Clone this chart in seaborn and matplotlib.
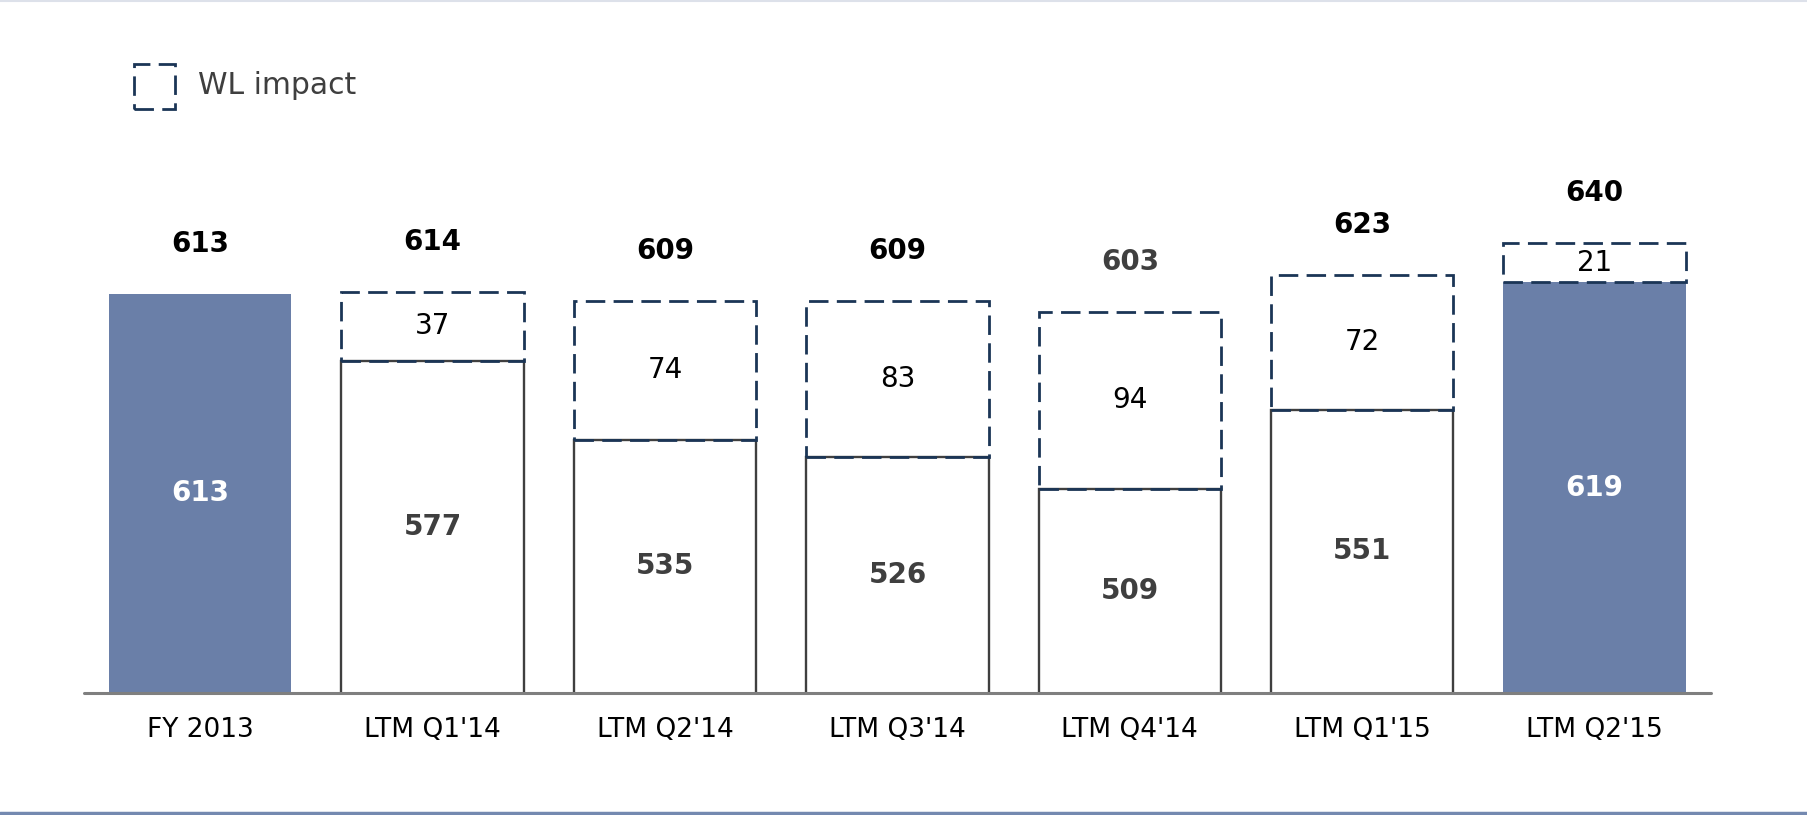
import matplotlib
matplotlib.use("Agg")
import matplotlib.pyplot as plt
import matplotlib.patches as mpatches
from matplotlib.lines import Line2D
import pandas as pd
import seaborn as sns

# chart data
categories = ["FY 2013", "LTM Q1'14", "LTM Q2'14", "LTM Q3'14", "LTM Q4'14", "LTM Q1'15", "LTM Q2'15"]
base_values = [613, 577, 535, 526, 509, 551, 619]
wl_impact = [0, 37, 74, 83, 94, 72, 21]
legend_label = "WL impact"

# styles
blue = "#6A7FA8"
navy = "#1B3556"
dark = "#3F3F3F"
bar_fill = [blue, "white", "white", "white", "white", "white", blue]
total_color = ["black", "black", "black", "black", dark, "black", "black"]

sns.set_style("white")
plt.rcParams["font.family"] = ["DejaVu Sans"]

df = pd.DataFrame({"category": categories, "base": base_values, "wl": wl_impact})
df["total"] = df["base"] + df["wl"]

fig = plt.figure(figsize=(18.07, 8.15), dpi=100)
ax = fig.add_axes([0.0465, 0.1497, 0.9003, 0.6902])

palette = dict(zip(categories, bar_fill))
sns.barplot(data=df, x="category", y="base", hue="category", palette=palette,
            order=categories, hue_order=categories, width=0.785, legend=False,
            saturation=1, ax=ax, zorder=2)

bars = sorted(ax.patches, key=lambda p: p.get_x())
for bar, fill in zip(bars, bar_fill):
    if fill == "white":
        bar.set_edgecolor(dark)
        bar.set_linewidth(1.7)
    else:
        bar.set_edgecolor(fill)
        bar.set_linewidth(0)

# WL impact boxes on top of base bars
for i, row in df.iterrows():
    if row["wl"] > 0:
        ax.bar(i, row["wl"], bottom=row["base"], width=0.785, facecolor="none",
               edgecolor=navy, linewidth=2.0, linestyle=(0, (7, 3)), zorder=3)
        ax.text(i, row["base"] + row["wl"] / 2, str(row["wl"]), ha="center", va="center",
                fontsize=20, color="black", zorder=4)
    # base label in the middle of the visible part
    mid = (400 + row["base"]) / 2
    ax.text(i, mid, str(row["base"]), ha="center", va="center", fontsize=20,
            fontweight="bold", color="white" if bar_fill[i] != "white" else dark, zorder=4)
    # total label above
    ax.annotate(str(row["total"]), (i, row["total"]), xytext=(0, 36), textcoords="offset points",
                ha="center", va="center", fontsize=20, fontweight="bold", color=total_color[i])

ax.set_ylim(400, 700)
ax.set_xlim(-0.5, 6.5)
ax.axhline(400, color="#7F7F7F", linewidth=2.2, zorder=5, clip_on=False)
ax.set_xlabel("")
ax.set_ylabel("")
ax.set_yticks([])
ax.tick_params(axis="x", length=0, pad=17, labelsize=19, labelcolor="black")
sns.despine(ax=ax, left=True, top=True, right=True, bottom=True)

# legend drawn by hand
leg_box = mpatches.Rectangle((0.0742, 0.8663), 0.0227, 0.0552, transform=fig.transFigure,
                             facecolor="none", edgecolor=navy, linewidth=2.0,
                             linestyle=(0, (7, 3)))
fig.add_artist(leg_box)
fig.text(0.1096, 0.8945, legend_label, ha="left", va="center", fontsize=21.5, color=dark)

# frame lines at top and bottom of the slide
fig.add_artist(Line2D([0, 1], [0.9985, 0.9985], transform=fig.transFigure, color="#DDE1EA", linewidth=1.5))
fig.add_artist(Line2D([0, 1], [0.002, 0.002], transform=fig.transFigure, color="#7489B0", linewidth=2.5))

fig.savefig("out.png", dpi=100)
